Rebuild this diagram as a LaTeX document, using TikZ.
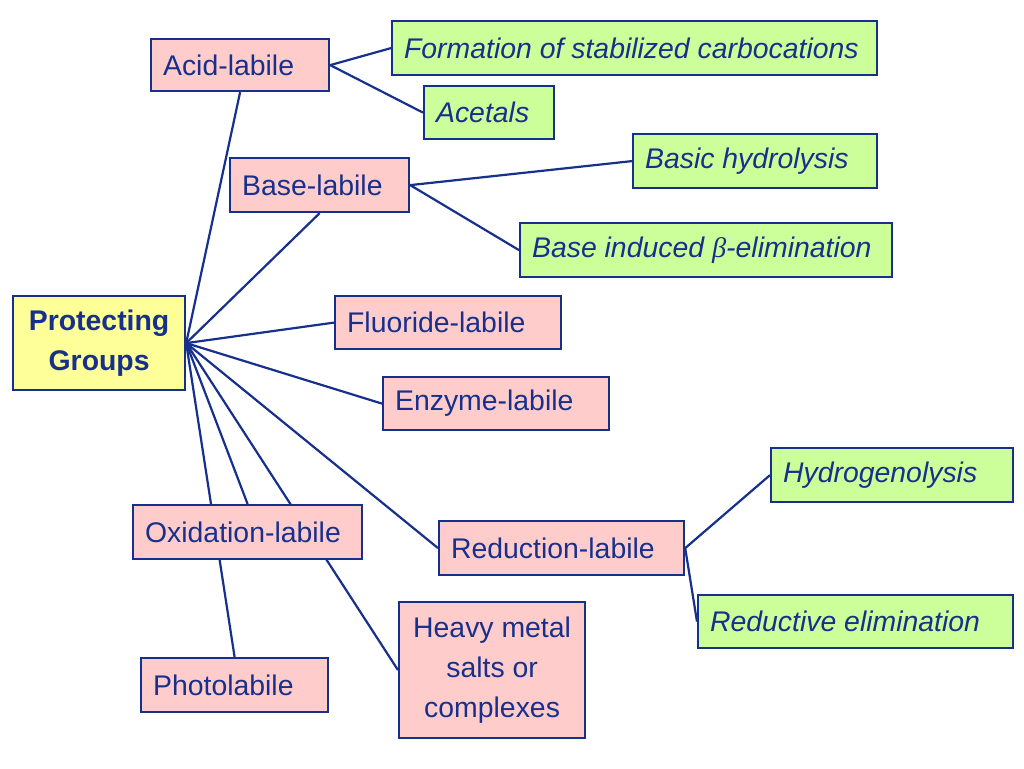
\documentclass[tikz,border=0pt]{standalone}
\usepackage{fontspec}
\setmainfont{Liberation Sans}
\newfontfamily\greekserif{Liberation Serif}
\usetikzlibrary{backgrounds}
\definecolor{dblue}{RGB}{22,48,140}
\definecolor{pinkf}{RGB}{255,204,204}
\definecolor{greenf}{RGB}{204,255,153}
\definecolor{yellowf}{RGB}{255,255,153}
\begin{document}
\begin{tikzpicture}[x=0.5pt,y=-0.5pt,
 basebox/.style={draw=dblue, line width=1.1pt, text=dblue, font=\fontsize{14.2}{20}\selectfont, inner xsep=6pt, inner ysep=0pt, align=flush left, anchor=north west},
 pinkbox/.style={basebox, fill=pinkf},
 greenbox/.style={basebox, fill=greenf, font=\fontsize{14.2}{20}\selectfont\itshape},
 hubbox/.style={basebox, fill=yellowf, font=\fontsize{14.2}{20}\selectfont\bfseries, align=flush center},
 link/.style={draw=dblue, line width=1.1pt}]
\useasboundingbox (0,0) rectangle (1024,768);

\node[hubbox, text width=74pt, minimum height=47pt] (pg) at (12,295) {Protecting\\Groups};
\node[pinkbox, text width=77pt, minimum height=26pt] (al) at (150,38) {Acid-labile};
\node[greenbox, text width=230.5pt, minimum height=27pt] (fsc) at (391,20) {Formation of stabilized carbocations};
\node[greenbox, text width=53pt, minimum height=26.5pt] (ac) at (423,85) {Acetals};
\node[pinkbox, text width=77.5pt, minimum height=27pt] (bl) at (229,157) {Base-labile};
\node[greenbox, text width=110pt, minimum height=27pt] (bh) at (632,133) {Basic hydrolysis};
\node[greenbox, text width=174pt, minimum height=27pt] (bie) at (519,222) {Base induced {\greekserif\itshape β}-elimination};
\node[pinkbox, text width=101pt, minimum height=26.5pt] (fl) at (334,295) {Fluoride-labile};
\node[pinkbox, text width=101pt, minimum height=26.5pt] (el) at (382,376) {Enzyme-labile};
\node[pinkbox, text width=102.5pt, minimum height=27pt] (ol) at (132,504) {Oxidation-labile};
\node[pinkbox, text width=110.5pt, minimum height=27pt] (rl) at (438,520) {Reduction-labile};
\node[greenbox, text width=109pt, minimum height=27pt] (hy) at (770,447) {Hydrogenolysis};
\node[greenbox, text width=145.5pt, minimum height=26.5pt] (re) at (697,594) {Reductive elimination};
\node[pinkbox, text width=81.5pt, minimum height=27pt] (pl) at (140,657) {Photolabile};
\node[pinkbox, text width=81pt, minimum height=68pt, align=flush center] (hm) at (398,601) {Heavy metal\\salts or\\complexes};

\begin{scope}[on background layer]
\fill[white] (0,0) rectangle (1024,768);
\draw[link] (pg.east) -- (al.south);
\draw[link] (pg.east) -- (bl.south);
\draw[link] (pg.east) -- (fl.west);
\draw[link] (pg.east) -- (el.west);
\draw[link] (pg.east) -- (rl.west);
\draw[link] (pg.east) -- (ol.north);
\draw[link] (pg.east) -- (pl.north);
\draw[link] (pg.east) -- (hm.west);
\draw[link] (al.east) -- (fsc.west);
\draw[link] (al.east) -- (ac.west);
\draw[link] (bl.east) -- (bh.west);
\draw[link] (bl.east) -- (bie.west);
\draw[link] (rl.east) -- (hy.west);
\draw[link] (rl.east) -- (re.west);
\end{scope}
\end{tikzpicture}
\end{document}
